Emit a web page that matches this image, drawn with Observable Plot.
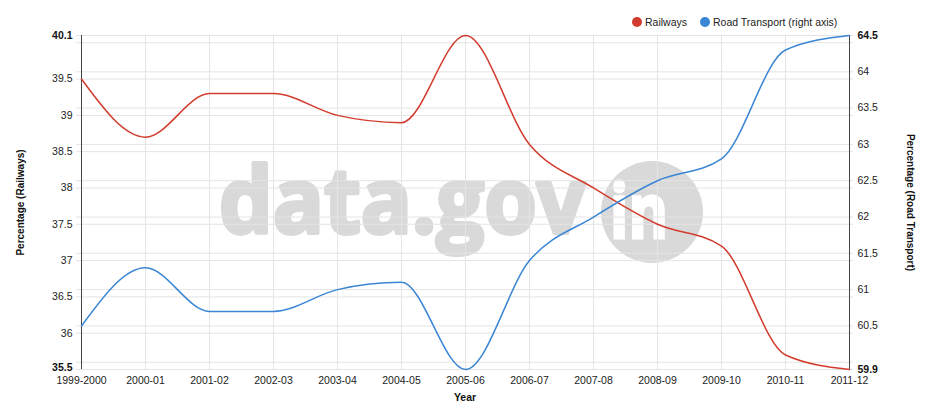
<!DOCTYPE html>
<html>
<head>
<meta charset="utf-8">
<script src="https://cdn.jsdelivr.net/npm/d3@7"></script>
<script src="https://cdn.jsdelivr.net/npm/@observablehq/plot@0.6"></script>
<style>
  html, body { margin: 0; padding: 0; background: #fff; }
  #wrap { position: relative; width: 932px; height: 412px; font-family: "Liberation Sans", Arial, sans-serif; }
  #wm { position: absolute; left: 0; top: 0; z-index: 0; }
  #chart { position: absolute; left: 0; top: 0; z-index: 1; }
  #legend { position: absolute; top: 16px; left: 632px; height: 12px; z-index: 2; font-size: 10.5px; color: #222; display: flex; align-items: center; white-space: nowrap; }
  #legend .sw { display: inline-block; width: 10px; height: 10px; border-radius: 50%; margin-right: 3px; }
  #legend .it { display: flex; align-items: center; margin-right: 13px; }
</style>
</head>
<body>
<div id="wrap">
  <svg id="wm" width="932" height="412">
    <text x="219" y="233" font-family="'Open Sans', 'DejaVu Sans', sans-serif" font-weight="bold" font-size="92" fill="#d9d9d9" stroke="#d9d9d9" stroke-width="4" stroke-linejoin="round" textLength="366" lengthAdjust="spacingAndGlyphs">data.gov</text>
    <circle cx="652" cy="212" r="51" fill="#d9d9d9"></circle>
    <text x="610" y="238" font-family="'Open Sans', 'DejaVu Sans', sans-serif" font-weight="bold" font-size="76" fill="#ffffff" stroke="#ffffff" stroke-width="3" textLength="58" lengthAdjust="spacingAndGlyphs">in</text>
  </svg>
  <div id="chart"></div>
  <div id="legend"></div>
</div>
<script>
const years = ["1999-2000","2000-01","2001-02","2002-03","2003-04","2004-05","2005-06","2006-07","2007-08","2008-09","2009-10","2010-11","2011-12"];
const railways = [39.5, 38.7, 39.3, 39.3, 39.0, 38.9, 40.1, 38.6, 38.0, 37.5, 37.2, 35.7, 35.5];
const road = [60.5, 61.3, 60.7, 60.7, 61.0, 61.1, 59.9, 61.4, 62.0, 62.5, 62.8, 64.3, 64.5];

const leftDomain = [35.5, 40.1];
const rightDomain = [59.9, 64.5];
const leftTicks = [35.5, 36, 36.5, 37, 37.5, 38, 38.5, 39, 39.5, 40.1];
const leftGrid = [35.5, 36, 36.5, 37, 37.5, 38, 38.5, 39, 39.5, 40, 40.1];
const rightTicks = [59.9, 60.5, 61, 61.5, 62, 62.5, 63, 63.5, 64, 64.5];
const rightGrid = [59.9, 60, 60.5, 61, 61.5, 62, 62.5, 63, 63.5, 64, 64.5];

const seriesNames = ["Railways", "Road Transport (right axis)"];
const colors = ["#d23c2e", "#3a86d4"];

// map right-axis values onto the left scale
const toLeft = v => leftDomain[0] + (v - rightDomain[0]) * (leftDomain[1] - leftDomain[0]) / (rightDomain[1] - rightDomain[0]);

const railData = years.map((y, i) => ({year: y, v: railways[i]}));
const roadData = years.map((y, i) => ({year: y, v: toLeft(road[i])}));
const rightTickData = rightTicks.map(t => ({pos: toLeft(t), label: String(t)}));
const ends = [leftDomain[0], leftDomain[1]];
const rEnds = [rightDomain[0], rightDomain[1]];

const gridColor = "#e4e4e4";
const fs = 10.5;
const chart = Plot.plot({
  width: 932,
  height: 412,
  marginLeft: 76,
  marginRight: 79,
  marginTop: 35,
  marginBottom: 43,
  style: {background: "transparent", fontFamily: "'Liberation Sans', Arial, sans-serif", fontSize: "11px", color: "#222"},
  x: {type: "point", domain: years, padding: 0, axis: null},
  y: {domain: leftDomain, axis: null},
  marks: [
    Plot.ruleY(leftGrid, {stroke: gridColor, strokeWidth: 1}),
    Plot.ruleY(rightGrid.map(toLeft), {stroke: gridColor, strokeWidth: 1}),
    Plot.ruleX(years, {stroke: gridColor, strokeWidth: 1}),
    Plot.ruleX([years[0], years[years.length - 1]], {stroke: "#444", strokeWidth: 1}),
    // left tick labels
    Plot.text(leftTicks.filter(t => !ends.includes(t)), {y: d => d, frameAnchor: "left", dx: -4, textAnchor: "end", lineAnchor: "middle", fill: "#222", fontSize: fs}),
    Plot.text([leftDomain[1]], {y: d => d, frameAnchor: "left", dx: -4, textAnchor: "end", lineAnchor: "middle", fill: "#111", fontSize: fs, fontWeight: "bold"}),
    Plot.text([leftDomain[0]], {y: d => d, frameAnchor: "left", dx: -4, dy: -2, textAnchor: "end", lineAnchor: "middle", fill: "#111", fontSize: fs, fontWeight: "bold"}),
    // right tick labels
    Plot.text(rightTickData.filter(d => !rEnds.includes(+d.label)), {y: "pos", text: "label", frameAnchor: "right", dx: 4, textAnchor: "start", lineAnchor: "middle", fill: "#222", fontSize: fs}),
    Plot.text(rightTickData.filter(d => rEnds.includes(+d.label)), {y: "pos", text: "label", frameAnchor: "right", dx: 4, textAnchor: "start", lineAnchor: "middle", fill: "#111", fontSize: fs, fontWeight: "bold"}),
    // x tick labels
    Plot.text(years, {x: d => d, frameAnchor: "bottom", dy: 11, lineAnchor: "middle", textAnchor: "middle", fill: "#222", fontSize: fs}),
    // axis titles
    Plot.text(["Year"], {frameAnchor: "bottom", dy: 28, lineAnchor: "middle", textAnchor: "middle", fontWeight: "bold", fontSize: fs, fill: "#111"}),
    Plot.text(["Percentage (Railways)"], {frameAnchor: "left", dx: -56, rotate: -90, textAnchor: "middle", lineAnchor: "middle", fontWeight: "bold", fontSize: 10, fill: "#111"}),
    Plot.text(["Percentage (Road Transport)"], {frameAnchor: "right", dx: 57, rotate: 90, textAnchor: "middle", lineAnchor: "middle", fontWeight: "bold", fontSize: 10, fill: "#111"}),
    // lines
    Plot.line(railData, {x: "year", y: "v", stroke: colors[0], strokeWidth: 1.5, curve: "monotone-x"}),
    Plot.line(roadData, {x: "year", y: "v", stroke: colors[1], strokeWidth: 1.5, curve: "monotone-x"})
  ]
});
document.getElementById("chart").appendChild(chart);

const legend = document.getElementById("legend");
seriesNames.forEach((n, i) => {
  const it = document.createElement("span");
  it.className = "it";
  const sw = document.createElement("span");
  sw.className = "sw";
  sw.style.background = colors[i];
  it.appendChild(sw);
  it.appendChild(document.createTextNode(n));
  legend.appendChild(it);
});
</script>
</body>
</html>
